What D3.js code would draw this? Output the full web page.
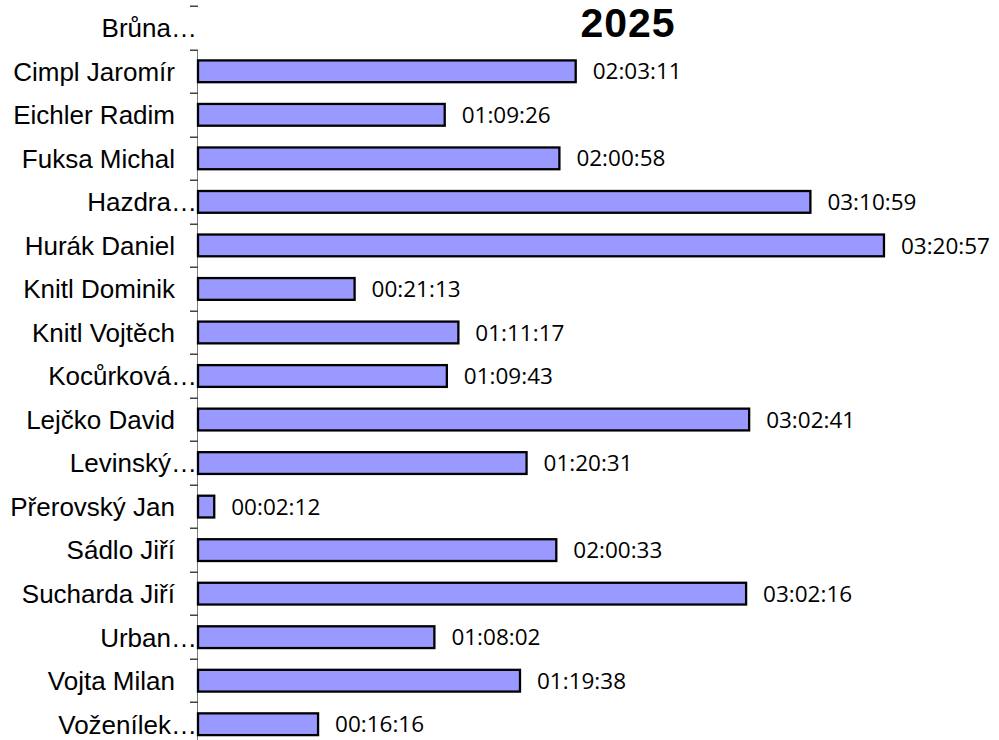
<!DOCTYPE html>
<html>
<head>
<meta charset="utf-8">
<script src="https://cdn.jsdelivr.net/npm/d3@7"></script>
<style>
  html, body { margin: 0; padding: 0; background: #fff; }
  svg { display: block; }
</style>
</head>
<body>
<svg width="999" height="740"></svg>
<script>
// categories as shown (long names are cut by the chart itself)
const names = ["Brůna…", "Cimpl Jaromír", "Eichler Radim", "Fuksa Michal", "Hazdra…",
    "Hurák Daniel", "Knitl Dominik", "Knitl Vojtěch", "Kocůrková…", "Lejčko David",
    "Levinský…", "Přerovský Jan", "Sádlo Jiří", "Sucharda Jiří", "Urban…",
    "Vojta Milan", "Voženílek…"];

// bar lengths
const values = [null, 51.18, 33.43, 48.97, 82.98, 92.95, 21.22, 35.28, 33.72, 74.68,
    44.52, 2.2, 48.55, 74.27, 32.03, 43.63, 16.27];

// text printed next to each bar
const timeLabels = [null, "02:03:11", "01:09:26", "02:00:58", "03:10:59", "03:20:57",
    "00:21:13", "01:11:17", "01:09:43", "03:02:41", "01:20:31", "00:02:12",
    "02:00:33", "03:02:16", "01:08:02", "01:19:38", "00:16:16"];

const title = "2025";

const rows = names.map((n, i) => ({name: n, value: values[i], label: timeLabels[i]}));

const svg = d3.select("svg");

const x = d3.scaleLinear().domain([0, 100]).range([198, 936]);
const y = d3.scaleBand()
    .domain(names)
    .range([6, 746])
    .paddingInner(0.5)
    .paddingOuter(0.25);

// title
svg.append("text")
    .attr("x", 628)
    .attr("y", 37)
    .attr("text-anchor", "middle")
    .style("font-family", "Liberation Sans, Arial, sans-serif")
    .style("font-weight", "bold")
    .style("font-size", "41px")
    .style("letter-spacing", "1px")
    .text(title);

// tick marks sit halfway between bands
const gap = (y.step() - y.bandwidth()) / 2;
const edges = names.map(n => Math.round(y(n) - gap));
edges.push(Math.round(y(names[names.length - 1]) + y.bandwidth() + gap));

svg.append("rect")
    .attr("x", x(0) - 1)
    .attr("y", edges[1])
    .attr("width", 1)
    .attr("height", 740 - edges[1])
    .attr("fill", "#7a7a7a");
svg.selectAll(".tk")
    .data(edges)
    .join("rect")
    .attr("class", "tk")
    .attr("x", x(0) - 8)
    .attr("y", d => d - 0.5)
    .attr("width", 8)
    .attr("height", 1.5)
    .attr("fill", "#444");

// category labels
svg.selectAll(".cat")
    .data(rows)
    .join("text")
    .attr("class", "cat")
    .attr("x", d => d.name.endsWith("…") ? 197 : 175)
    .attr("y", d => y(d.name) + y.bandwidth() / 2)
    .attr("dy", "0.36em")
    .attr("text-anchor", "end")
    .style("font-family", "Liberation Sans, Arial, sans-serif")
    .style("font-size", "26px")
    .text(d => d.name);

const withValue = rows.filter(d => d.value != null);

// bars
svg.selectAll(".bar")
    .data(withValue)
    .join("rect")
    .attr("class", "bar")
    .attr("x", x(0))
    .attr("y", d => y(d.name))
    .attr("width", d => x(d.value) - x(0))
    .attr("height", y.bandwidth())
    .attr("fill", "#9999ff")
    .attr("stroke", "#000")
    .attr("stroke-width", 2.3);

// value labels
svg.selectAll(".val")
    .data(withValue)
    .join("text")
    .attr("class", "val")
    .attr("x", d => x(d.value) + 17)
    .attr("y", d => y(d.name) + y.bandwidth() / 2)
    .attr("dy", "0.36em")
    .style("font-family", "Open Sans, sans-serif")
    .style("font-size", "22.5px")
    .text(d => d.label);
</script>
</body>
</html>
